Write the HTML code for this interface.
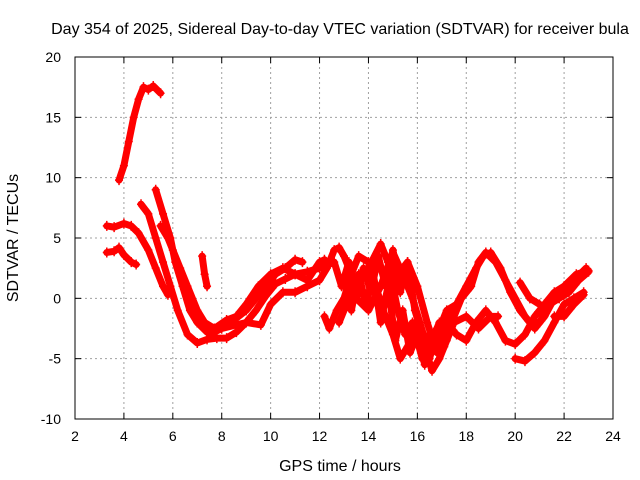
<!DOCTYPE html>
<html><head><meta charset="utf-8"><style>
body{margin:0;background:#fff;}
svg{display:block;font-family:"Liberation Sans",sans-serif;}
</style></head><body>
<svg id="chart" width="640" height="480">
<text x="340" y="34" font-size="16" text-anchor="middle">Day 354 of 2025, Sidereal Day-to-day VTEC variation (SDTVAR) for receiver bula</text>
<text x="340" y="471" font-size="16" text-anchor="middle">GPS time / hours</text>
<text x="18" y="238" font-size="16" text-anchor="middle" transform="rotate(-90 18 238)">SDTVAR / TECUs</text>
<g id="grid"></g><g id="series"></g><g id="axes"></g>
</svg>
<script>
const xTicks=[2,4,6,8,10,12,14,16,18,20,22,24];
const yTicks=[-10,-5,0,5,10,15,20];
const trackA=[[3.8,9.8],[4.0,11],[4.2,13],[4.4,15],[4.6,16.5],[4.8,17.5],[5.0,17.3],[5.2,17.6],[5.5,17.0]];
const trackB=[[3.3,6],[3.6,5.9],[4.0,6.2],[4.3,6],[4.6,5.4],[5.0,4],[5.3,2.5],[5.6,1],[5.8,0.3]];
const trackC=[[3.3,3.8],[3.6,3.9],[3.8,4.2],[4.0,3.6],[4.3,3],[4.5,2.8]];
const trackD=[[4.7,7.8],[5.0,7],[5.3,5],[5.6,3],[5.9,1],[6.2,-1],[6.6,-3],[7.0,-3.7],[7.4,-3.4],[7.8,-3.3],[8.2,-3.3],[8.6,-2.8],[9.0,-2],[9.4,-1],[9.8,0.2],[10.2,1.2],[10.6,1.6],[11,2],[11.5,2.2],[12,2.5],[12.5,3]];
const trackE=[[5.3,9],[5.6,7],[5.9,5],[6.1,3],[6.4,1],[6.7,-1],[7.0,-2],[7.4,-2.8],[8.0,-2.2],[8.5,-1.8],[9,-1],[9.4,0],[9.8,1],[10.2,2],[10.6,2.5],[11,3.2],[11.3,3]];
const trackF=[[5.5,6],[5.8,5],[6.0,4],[6.3,2.5],[6.6,1],[7.0,-1],[7.3,-2],[7.7,-2.5],[8.2,-1.8],[8.6,-1.5],[9,-0.5],[9.5,1],[10,2],[10.5,2.5],[11,2],[11.5,1.5],[12,3],[12.2,3.2]];
const trackG=[[7.2,3.5],[7.3,2],[7.4,1]];
const trackH=[[7.2,-2],[7.5,-3],[8,-2.5],[9,-2],[9.6,-2.2],[10,-0.5],[10.5,0.5],[11,0.5],[11.5,1],[12,1.5],[12.3,2.5],[12.6,4],[12.8,4.2],[13,3.5],[13.3,2],[13.6,0.5],[14,0]];
const trackI=[[12.2,-1.5],[12.4,-2.5],[12.7,-1],[13,0],[13.3,2],[13.6,3.5],[14,3],[14.3,1],[14.6,-1],[15,-3],[15.3,-5],[15.6,-4],[16,-2],[16.3,-4],[16.6,-6],[16.9,-5],[17.2,-3.5],[17.5,-2],[18,-1.5],[18.5,-2.5],[19,-1.5],[19.3,-1.5]];
const trackJ=[[12.8,-2],[13.2,0],[13.5,1.5],[14,2.5],[14.5,4.5],[14.8,3],[15.2,-1],[15.5,-3],[15.8,-2],[16.2,-5],[16.5,-3],[17,-4],[17.4,-2],[17.8,0],[18.2,1],[18.5,3],[18.8,3.8],[19.2,3],[19.6,1.5],[20,0],[20.4,-1.5],[20.8,-2.5],[21.2,-1.5],[21.6,0],[22,0.5],[22.4,1.5],[22.9,2.5]];
const trackK=[[13.5,0],[14,-1],[14.5,1],[15,3.8],[15.4,2],[15.8,0],[16.1,-2],[16.4,-4],[16.8,-3],[17.2,-1],[17.6,-0.5],[18,1],[18.4,2.5],[18.7,3.5],[19,3.8],[19.4,2.5],[19.8,0.5],[20.2,-1],[20.6,-2],[21,-2],[21.4,-0.5],[21.8,0],[22.2,0.5],[22.6,1.5],[23,2.2]];
const trackL=[[15.2,2],[15.6,3],[16,1],[16.4,-2],[16.8,-4.5],[17.2,-2],[17.6,-3],[18,-3.5],[18.4,-2],[18.8,-1],[19.2,-2],[19.6,-3.5],[20,-3.8],[20.4,-3],[20.8,-1.5],[21.2,-0.5],[21.6,0.5],[22,1],[22.5,2],[23,2.3]];
const trackM=[[20,-5],[20.4,-5.2],[20.8,-4.5],[21.2,-3.5],[21.6,-2],[22,-0.5],[22.4,0],[22.8,0.5]];
const trackN=[[20.2,1.3],[20.6,0],[21,-0.5]];
const trackO=[[21.6,-1.5],[22,-1.5],[22.4,-0.5],[22.8,0.3]];
const trackP=[[12.6,3],[12.9,1],[13.2,3],[13.5,0],[13.8,2.5],[14.1,0.5],[14.4,3.5],[14.7,1],[15,4],[15.3,0.5],[15.6,3],[15.9,-1],[16.2,-3],[16.5,-5],[16.8,-2.5],[17.1,-4],[17.4,-1]];
const trackQ=[[13,1.5],[13.3,-1],[13.6,2],[13.9,-0.5],[14.2,2],[14.5,-2],[14.8,1],[15.1,-3.5],[15.4,-1],[15.7,-4.5],[16,-3],[16.3,-5.5],[16.6,-3.5],[16.9,-2]];
const tracks=[trackA,trackB,trackC,trackD,trackE,trackF,trackG,trackH,trackI,trackJ,trackK,trackL,trackM,trackN,trackO,trackP,trackQ];

const L=75,R=613,T=57,B=419;
const sx=v=>L+(v-2)/22*(R-L);
const sy=v=>B-(v+10)/30*(B-T);
const NS='http://www.w3.org/2000/svg';
function mk(tag,attrs,parent){const e=document.createElementNS(NS,tag);for(const k in attrs)e.setAttribute(k,attrs[k]);parent.appendChild(e);return e;}
const grid=document.getElementById('grid'),axes=document.getElementById('axes'),ser=document.getElementById('series');
xTicks.forEach(t=>{
  if(t>2&&t<24){const g=mk('line',{x1:sx(t),x2:sx(t),y1:T,y2:B,stroke:'#a0a0a0','stroke-dasharray':'2,3'},grid);
  
  }
  const tx=mk('text',{x:sx(t),y:B+22,'font-size':14,'text-anchor':'middle'},axes);tx.textContent=t;
  
  
  mk('line',{x1:sx(t),x2:sx(t),y1:B,y2:B-6,stroke:'#000'},axes);
  mk('line',{x1:sx(t),x2:sx(t),y1:T,y2:T+6,stroke:'#000'},axes);
});
yTicks.forEach(t=>{
  if(t>-10&&t<20){const g=mk('line',{x1:L,x2:R,y1:sy(t),y2:sy(t),stroke:'#a0a0a0','stroke-dasharray':'2,3'},grid);
  
  }
  const tx=mk('text',{x:L-14,y:sy(t)+5,'font-size':14,'text-anchor':'end'},axes);tx.textContent=t;
  
  
  mk('line',{x1:L,x2:L+6,y1:sy(t),y2:sy(t),stroke:'#000'},axes);
  mk('line',{x1:R,x2:R-6,y1:sy(t),y2:sy(t),stroke:'#000'},axes);
});
const fr=mk('rect',{x:L,y:T,width:R-L,height:B-T,fill:'none',stroke:'#000'},axes);


tracks.forEach(tr=>{
  const pl=mk('polyline',{points:tr.map(p=>sx(p[0])+','+sy(p[1])).join(' '),fill:'none',stroke:'#ff0000','stroke-width':7,'stroke-linejoin':'round','stroke-linecap':'round'},ser);
  
  
  tr.forEach(p=>{
    const x=sx(p[0]),y=sy(p[1]);
    const m=mk('path',{d:`M${x-4},${y}H${x+4}M${x},${y-5}V${y+5}`,stroke:'#ff0000','stroke-width':1.5},ser);
    
    
  });
});
</script>
</body></html>
